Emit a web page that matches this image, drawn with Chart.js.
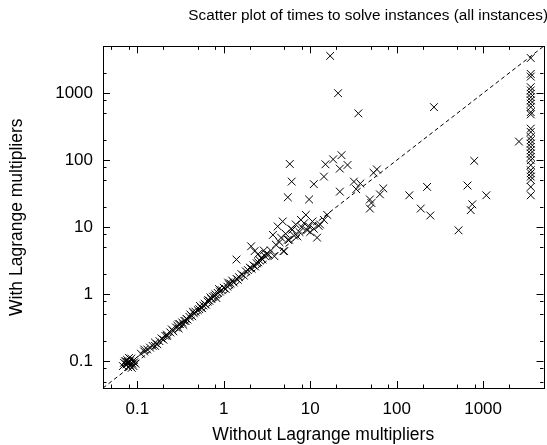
<!DOCTYPE html>
<html>
<head>
<meta charset="utf-8">
<script src="https://cdn.jsdelivr.net/npm/chart.js@4.4.1/dist/chart.umd.min.js"></script>
<style>
  html, body { margin: 0; padding: 0; background: #fff; overflow: hidden; }
</style>
</head>
<body>
<canvas id="scatterChart" width="550" height="445"></canvas>
<script>
// times in seconds
const withoutLagrange = [
  0.068, 0.070, 0.072, 0.075, 0.076, 0.078, 0.080, 0.082, 0.083, 0.085,
  0.087, 0.088, 0.090, 0.092, 0.095, 0.074, 0.080, 0.086, 0.078, 0.091,
  0.11, 0.12, 0.13, 0.14, 0.15, 0.16, 0.17, 0.18, 0.19, 0.20,
  0.21, 0.22, 0.24, 0.25, 0.26, 0.28, 0.29, 0.30, 0.31, 0.33,
  0.34, 0.35, 0.37, 0.38, 0.40, 0.41, 0.43, 0.45, 0.47, 0.50,
  0.52, 0.53, 0.55, 0.58, 0.60, 0.62, 0.65, 0.68, 0.70, 0.72,
  0.75, 0.78, 0.80, 0.85, 0.88, 0.90, 0.95, 1.0, 1.05, 1.1,
  1.15, 1.2, 1.25, 1.3, 1.4, 1.45, 1.5, 1.6, 1.7, 1.8,
  1.9, 2.0, 2.1, 2.2, 2.3, 2.4, 2.5, 2.6, 2.7, 2.8,
  3.0, 3.1, 3.3,
  0.12, 0.16, 0.22, 0.3, 0.36, 0.44, 0.56, 0.66, 0.82, 1.12,
  1.4, 2.07, 2.27, 2.5, 2.9, 3.85, 5.0, 4.9,
  3.5, 3.7, 4.0, 4.2, 4.4, 4.6, 4.8, 5.2, 5.5, 5.7,
  6.0, 6.2, 6.5, 6.8, 7.1, 7.5, 7.8, 8.0, 8.5, 8.9,
  9.2, 9.7, 10.0, 10.6, 11, 12, 12.5, 13, 14.4, 15.7,
  5.8, 6.1, 5.5, 9.7, 11, 14.4, 15, 18.4, 23, 22,
  27, 22, 32, 38, 34, 54, 59, 49, 51, 49,
  64, 70, 140, 225, 190, 245, 660, 750, 720, 1090,
  520, 790, 2600, 270, 36, 21, 17,
  3560, 3560, 3560, 3560, 3560, 3560, 3560, 3560, 3560, 3560,
  3560, 3560, 3560, 3560, 3560, 3560, 3560, 3560, 3560, 3560,
  3560, 3560, 3560, 3560, 3560, 3560, 3560, 3560, 3560
];
const withLagrange = [
  0.085, 0.095, 0.100, 0.090, 0.105, 0.082, 0.095, 0.100, 0.088, 0.110,
  0.093, 0.100, 0.085, 0.097, 0.092, 0.100, 0.112, 0.080, 0.098, 0.104,
  0.13, 0.14, 0.15, 0.16, 0.17, 0.19, 0.18, 0.20, 0.22, 0.21,
  0.24, 0.25, 0.27, 0.30, 0.28, 0.32, 0.34, 0.31, 0.36, 0.38,
  0.35, 0.40, 0.43, 0.42, 0.46, 0.50, 0.47, 0.52, 0.55, 0.58,
  0.60, 0.67, 0.63, 0.68, 0.72, 0.70, 0.78, 0.80, 0.90, 0.85,
  0.92, 0.95, 1.0, 1.05, 1.2, 1.1, 1.15, 1.25, 1.2, 1.3,
  1.4, 1.45, 1.6, 1.5, 1.7, 1.65, 1.8, 2.0, 1.9, 2.2,
  2.3, 2.5, 2.4, 2.7, 2.6, 2.9, 3.0, 3.2, 3.5, 3.3,
  3.7, 4.0, 3.9,
  0.15, 0.17, 0.24, 0.36, 0.40, 0.55, 0.62, 0.82, 0.88, 1.5,
  3.3, 5.2, 4.4, 4.0, 4.5, 3.7, 4.4, 4.4,
  4.5, 7.7, 5.5, 10.3, 6.0, 7.0, 12.2, 8.0, 6.5, 6.5,
  9.5, 9.2, 7.5, 11, 7.3, 8.5, 12.9, 10, 11.5, 15.3,
  9.0, 10.3, 8.5, 12.2, 9.5, 7, 10.5, 11, 12.9, 15.3,
  88, 48, 28, 26, 44, 57, 87, 103, 119, 75,
  85, 34, 48, 45, 37, 65, 73, 26, 23, 19,
  31, 38, 30, 40, 19, 15, 42, 22, 18, 30,
  9, 98, 190, 620, 500, 1000, 3600,
  3350, 1940, 1770, 1230, 1100, 980, 872, 780, 696, 620,
  522, 483, 296, 264, 222, 199, 177, 158, 141, 126,
  112, 100, 84.5, 71, 64, 57, 51, 40, 30
];

const axisMin = 0.04;
const axisMax = 5000;
const majorTicks = [0.1, 1, 10, 100, 1000];
const minorTicks = [0.05, 0.08, 0.2, 0.5, 0.8, 2, 5, 8, 20, 50, 80, 200, 500, 800, 2000];

const points = withoutLagrange.map((v, i) => ({ x: v, y: withLagrange[i] }));

// border on all four sides with gnuplot-style inward ticks
const frameTicks = {
  id: 'frameTicks',
  afterDatasetsDraw(chart) {
    const { ctx, chartArea: a, scales: { x, y } } = chart;
    ctx.save();
    ctx.strokeStyle = '#000';
    ctx.lineWidth = 1;
    ctx.beginPath();
    const tick = (v, len) => {
      const px = Math.round(x.getPixelForValue(v)) + 0.5;
      ctx.moveTo(px, a.bottom); ctx.lineTo(px, a.bottom - len);
      ctx.moveTo(px, a.top); ctx.lineTo(px, a.top + len);
      const py = Math.round(y.getPixelForValue(v)) + 0.5;
      ctx.moveTo(a.left, py); ctx.lineTo(a.left + len, py);
      ctx.moveTo(a.right, py); ctx.lineTo(a.right - len, py);
    };
    majorTicks.forEach(v => tick(v, 7));
    minorTicks.forEach(v => tick(v, 3.5));
    ctx.stroke();
    ctx.strokeRect(Math.round(a.left) + 0.5, Math.round(a.top) + 0.5,
      Math.round(a.right - a.left), Math.round(a.bottom - a.top));
    ctx.restore();
  }
};

const family = "'Liberation Sans', Arial, sans-serif";
const tickFont = { family: family, size: 17 };
const labelFont = { family: family, size: 17.5 };

const ctx = document.getElementById('scatterChart').getContext('2d');
new Chart(ctx, {
  type: 'scatter',
  data: {
    datasets: [{
      label: 'instances',
      data: points,
      pointStyle: 'crossRot',
      pointRadius: 5.5,
      pointBorderColor: '#000',
      pointBorderWidth: 1,
      pointHoverRadius: 5.5
    }, {
      label: 'y = x',
      type: 'line',
      data: [{ x: axisMin, y: axisMin }, { x: axisMax, y: axisMax }],
      borderColor: '#000',
      borderWidth: 1,
      borderDash: [4, 3],
      pointRadius: 0,
      fill: false
    }]
  },
  options: {
    responsive: false,
    animation: false,
    layout: { padding: { right: 2 } },
    plugins: {
      legend: { display: false },
      tooltip: { enabled: false },
      title: {
        display: true,
        text: 'Scatter plot of times to solve instances (all instances)',
        align: 'end',
        color: '#000',
        font: { family: family, size: 15.3, weight: 'normal' },
        padding: { top: 7, bottom: 21 }
      }
    },
    scales: {
      x: {
        type: 'logarithmic',
        min: axisMin,
        max: axisMax,
        grid: { display: false, drawTicks: false },
        border: { display: false },
        afterBuildTicks: s => { s.ticks = majorTicks.map(v => ({ value: v })); },
        afterFit: s => { s.height = 57; },
        ticks: {
          color: '#000',
          font: tickFont,
          padding: 11,
          maxRotation: 0,
          autoSkip: false,
          callback: v => String(v)
        },
        title: {
          display: true,
          text: 'Without Lagrange multipliers',
          color: '#000',
          font: labelFont,
          padding: { top: 0, bottom: -1 }
        }
      },
      y: {
        type: 'logarithmic',
        min: axisMin,
        max: axisMax,
        grid: { display: false, drawTicks: false },
        border: { display: false },
        afterBuildTicks: s => { s.ticks = majorTicks.map(v => ({ value: v })); },
        afterFit: s => { s.width = 103; },
        ticks: {
          color: '#000',
          font: tickFont,
          padding: 10,
          autoSkip: false,
          callback: v => String(v)
        },
        title: {
          display: true,
          text: 'With Lagrange multipliers',
          color: '#000',
          font: labelFont,
          padding: { top: 7, bottom: 0 }
        }
      }
    }
  },
  plugins: [frameTicks]
});
</script>
</body>
</html>
